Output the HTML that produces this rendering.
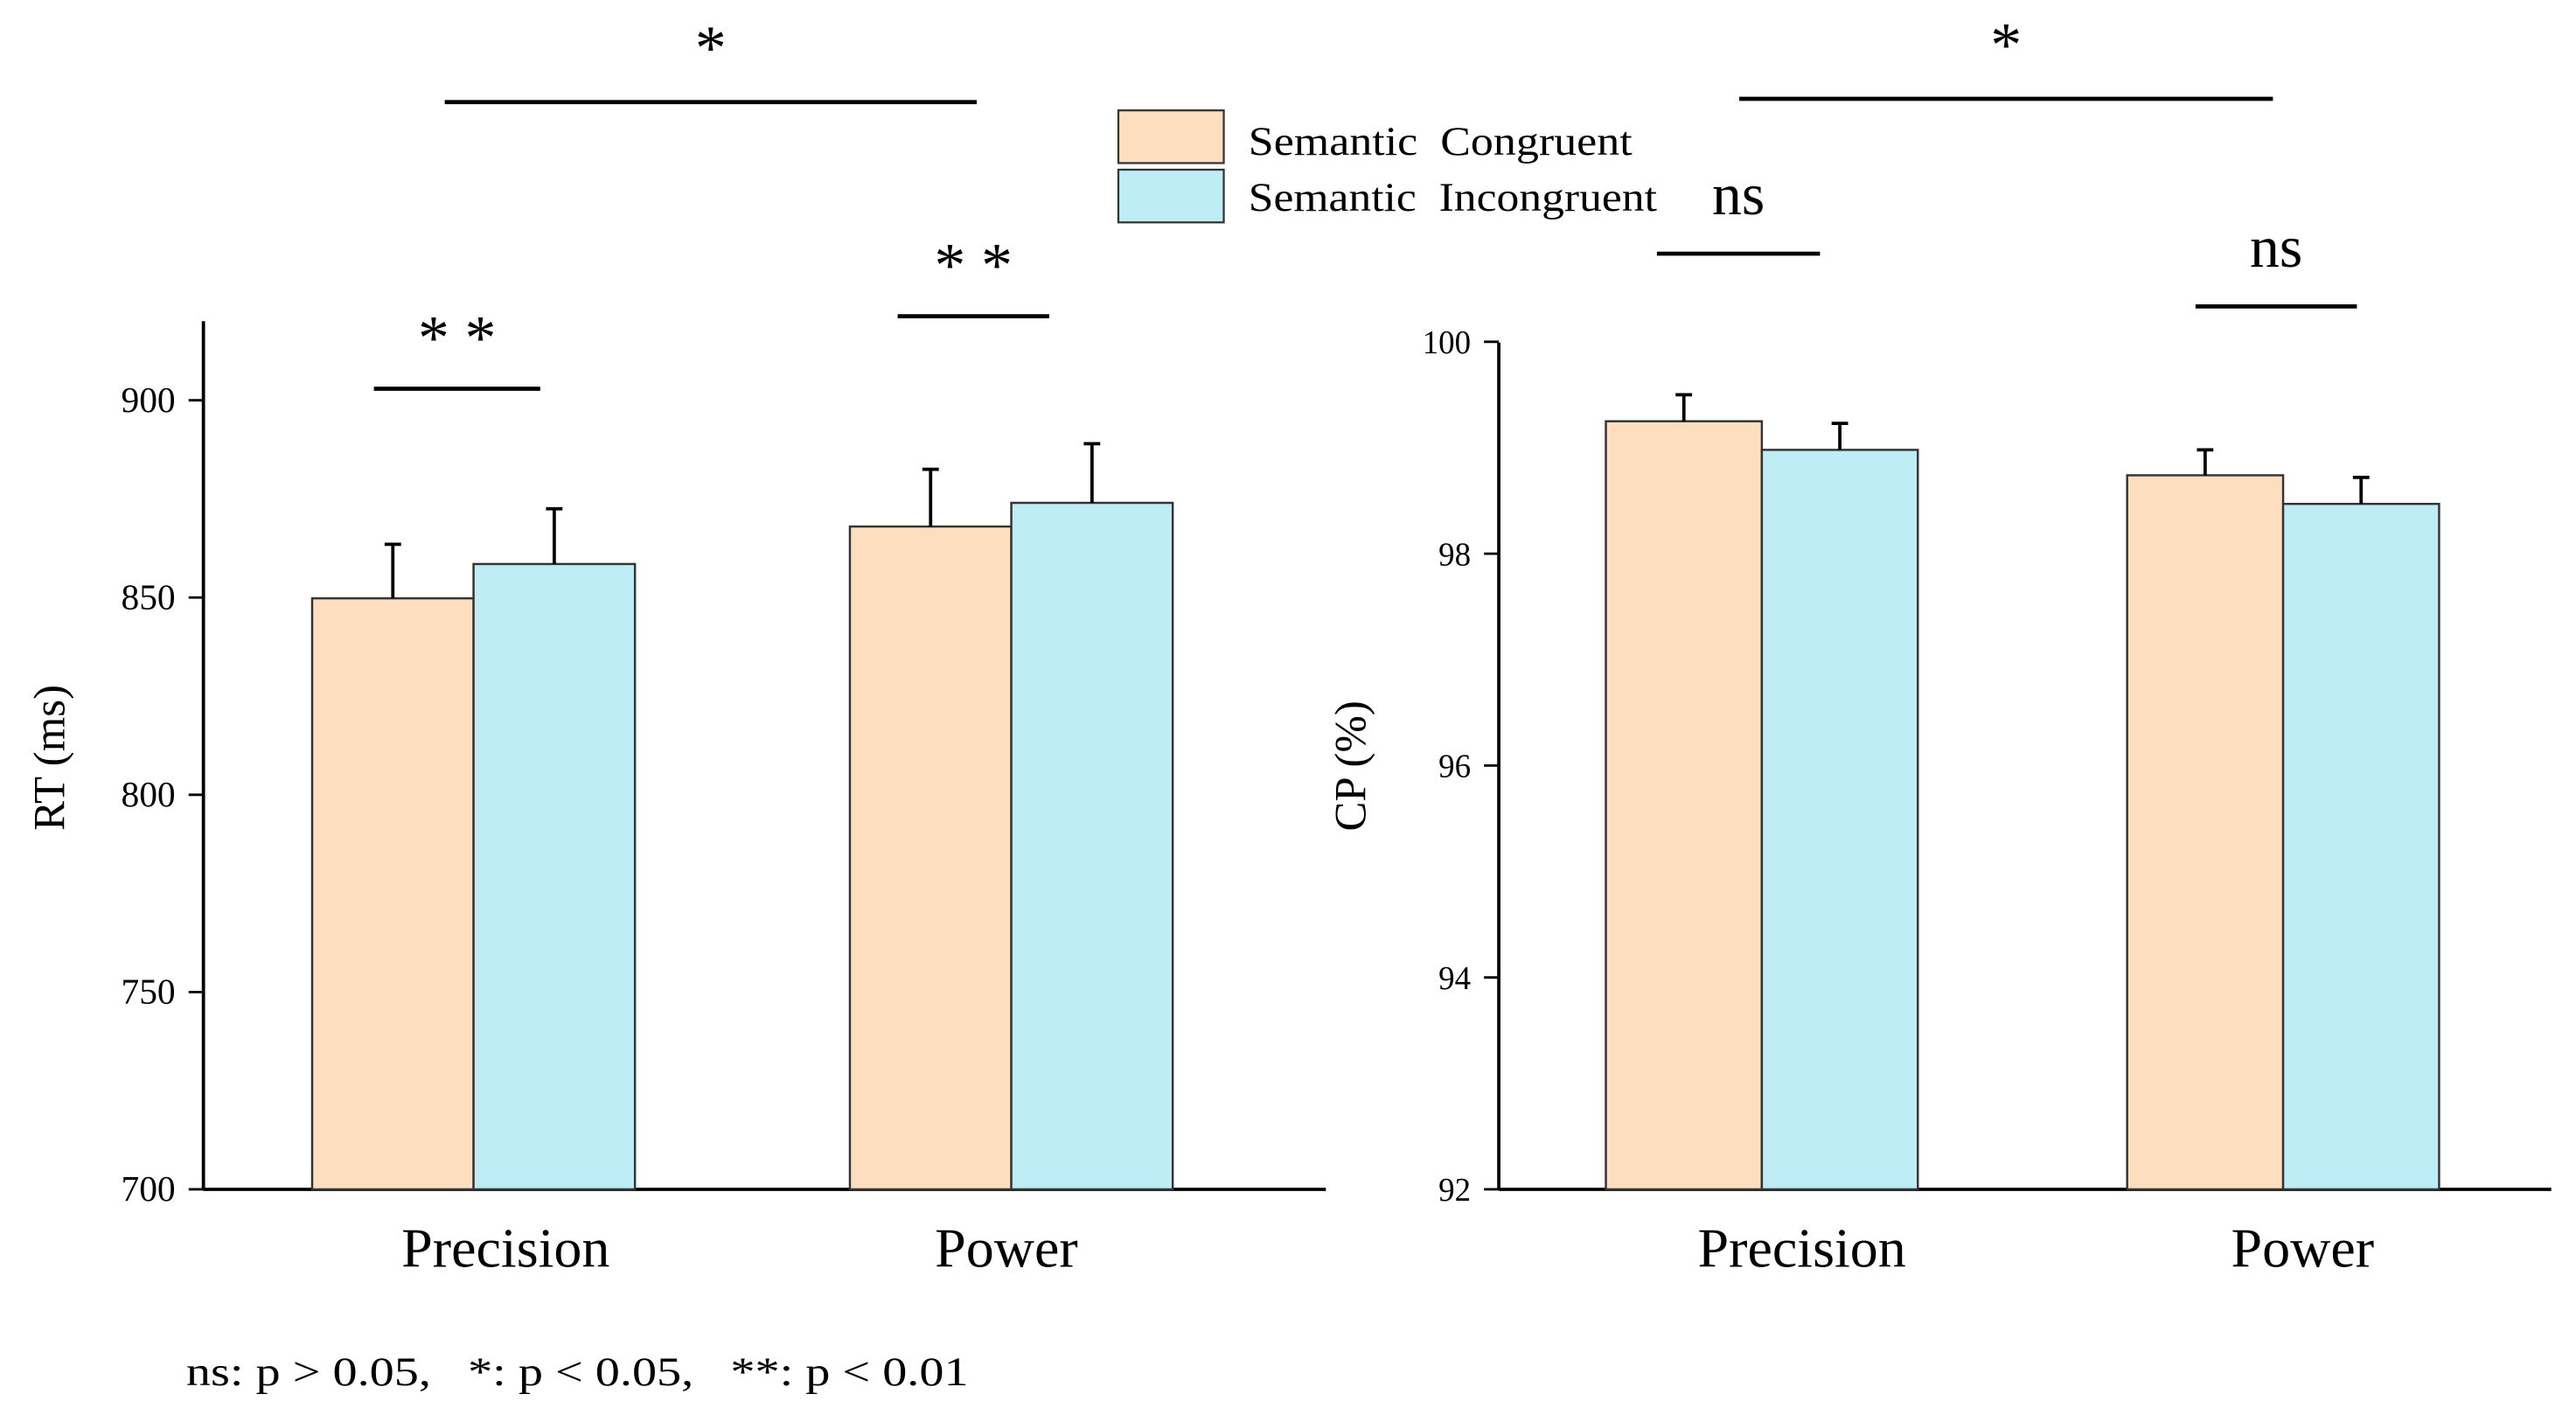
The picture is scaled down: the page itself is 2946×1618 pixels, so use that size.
<!DOCTYPE html>
<html><head><meta charset="utf-8"><style>
html,body{margin:0;padding:0;background:#fff}
svg{display:block}
text{font-family:"Liberation Serif",serif;fill:#000;white-space:pre}
</style></head><body>
<svg id="c" width="2946" height="1618" viewBox="0 0 1564 859">
<g id="left"></g>
<g id="right"></g>
<g>
<rect x="679" y="67" width="64" height="32" fill="#fddfbf" stroke="#333" stroke-width="1.2"/>
<text x="758" y="94" font-size="25" textLength="233" lengthAdjust="spacingAndGlyphs">Semantic  Congruent</text>
<rect x="679" y="103" width="64" height="32" fill="#bfedf5" stroke="#333" stroke-width="1.2"/>
<text x="758" y="128" font-size="25" textLength="248" lengthAdjust="spacingAndGlyphs">Semantic  Incongruent</text>
</g>
<text x="113" y="841" font-size="25" textLength="475" lengthAdjust="spacingAndGlyphs">ns: p &gt; 0.05,   *: p &lt; 0.05,   **: p &lt; 0.01</text>
</svg>
<script>
const categories=["Precision","Power"];
const rtCongruent=[849.8,868];
const rtIncongruent=[858.5,874];
const rtCongruentErr=[13.7,14.5];
const rtIncongruentErr=[14,15];
const rtTicks=[700,750,800,850,900];
const cpCongruent=[99.25,98.74];
const cpIncongruent=[98.98,98.47];
const cpCongruentErr=[0.25,0.24];
const cpIncongruentErr=[0.25,0.25];
const cpTicks=[92,94,96,98,100];
const NS="http://www.w3.org/2000/svg";
function mk(p,t,a){const e=document.createElementNS(NS,t);for(const k in a)e.setAttribute(k,a[k]);p.appendChild(e);return e;}
function panel(g,cfg){
  const y=v=>cfg.y0-(v-cfg.vmin)/(cfg.vmax-cfg.vmin)*(cfg.y0-cfg.y1);
  const ax=mk(g,'line',{x1:cfg.ax,y1:cfg.axTop,x2:cfg.ax,y2:cfg.y0,stroke:'#000','stroke-width':2});
  
  
  const xa=mk(g,'line',{x1:cfg.ax,y1:cfg.y0,x2:cfg.axEnd,y2:cfg.y0,stroke:'#000','stroke-width':2});
  
  
  cfg.ticks.forEach(t=>{
    const l=mk(g,'line',{x1:cfg.ax-9,y1:y(t),x2:cfg.ax,y2:y(t),stroke:'#000','stroke-width':1.5});
    
    
    const s=String(t);
    const tx=mk(g,'text',{x:cfg.ax-17,y:y(t)+7,'font-size':cfg.tf,'text-anchor':'end',textLength:s.length*cfg.dw,lengthAdjust:'spacingAndGlyphs'});
    tx.textContent=s;
    
    
  });
  const yl=mk(g,'text',{x:0,y:0,'font-size':27,'text-anchor':'middle',transform:`translate(${cfg.ylx},${cfg.yly}) rotate(-90)`});
  yl.textContent=cfg.ylabel;
  
  
  categories.forEach((c,i)=>{
    const x0=cfg.groupX[i];
    [[cfg.a,cfg.ae,'#fddfbf','congruent'],[cfg.b,cfg.be,'#bfedf5','incongruent']].forEach((s,j)=>{
      const bx=x0+j*cfg.bw, top=y(s[0][i]);
      const r=mk(g,'rect',{x:bx,y:top,width:cfg.bw,height:cfg.y0-top,fill:s[2],stroke:'#333','stroke-width':1.3});
      
      
      const cx=bx+cfg.bw/2, et=y(s[0][i]+s[1][i]);
      const e1=mk(g,'line',{x1:cx,y1:top,x2:cx,y2:et,stroke:'#000','stroke-width':2});
      
      
      const e2=mk(g,'line',{x1:cx-5,y1:et,x2:cx+5,y2:et,stroke:'#000','stroke-width':2});
      
      
    });
    const xl=mk(g,'text',{x:cfg.labelX[i],y:cfg.y0+47,'font-size':34,'text-anchor':'middle'});
    xl.textContent=c;
    
    
  });
  cfg.sig.forEach(s=>{
    const l=mk(g,'line',{x1:s[0],y1:s[2],x2:s[1],y2:s[2],stroke:'#000','stroke-width':2.5});
    
    
    const t=mk(g,'text',{x:(s[0]+s[1])/2,y:s[2]+s[4],'font-size':s[5],'text-anchor':'middle'});
    t.textContent=s[3];
    
    
  });
}
panel(document.getElementById('left'),{ax:123.5,axTop:195,axEnd:805,y0:722,y1:243,vmin:700,vmax:900,ticks:rtTicks,tf:22,dw:11,
  ylabel:'RT (ms)',ylx:39,yly:460,groupX:[189.5,516],labelX:[307,611],bw:98,a:rtCongruent,b:rtIncongruent,ae:rtCongruentErr,be:rtIncongruentErr,
  sig:[[227,328,236,'* *',-18,38],[545,637,192,'* *',-18,38],[270,593,62,'*',-20,38]]});
panel(document.getElementById('right'),{ax:910,axTop:208,axEnd:1549,y0:722,y1:207.5,vmin:92,vmax:100,ticks:cpTicks,tf:20,dw:9.8,
  ylabel:'CP (%)',ylx:829,yly:465,groupX:[975,1291.5],labelX:[1094,1398],bw:94.7,a:cpCongruent,b:cpIncongruent,ae:cpCongruentErr,be:cpIncongruentErr,
  sig:[[1006,1105,154,'ns',-24,36],[1333,1431,186,'ns',-24,36],[1056,1380,60,'*',-20,38]]});
</script>
</body></html>
